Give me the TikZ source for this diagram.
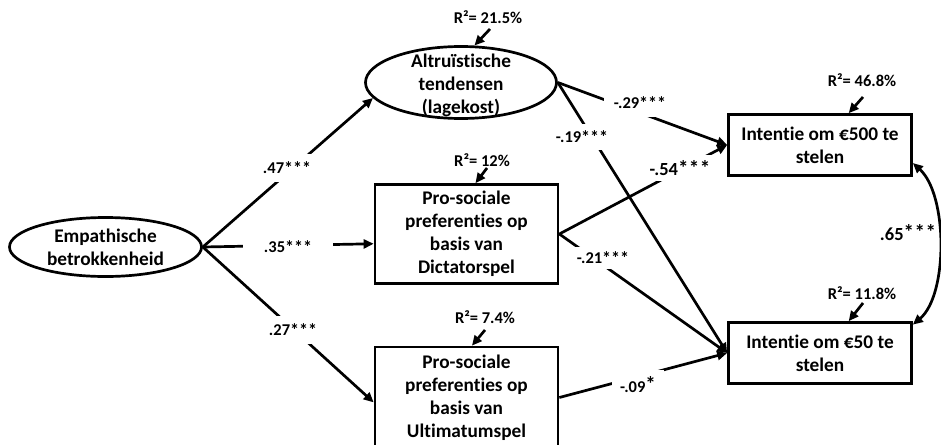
\documentclass[tikz,border=0pt]{standalone}
\usepackage{fontspec}
\setmainfont{Carlito}[Ligatures=NoCommon]
\usetikzlibrary{arrows.meta,shapes.geometric}
\newcommand{\stars}[1]{{\fontsize{#1}{#1}\selectfont\raisebox{-0.5pt}{***}}}
\begin{document}
\begin{tikzpicture}[x=1pt,y=-1pt,line width=2.7pt,
  >={Triangle[length=10pt,width=9pt]},
  nodetext/.style={font=\fontsize{19.3}{23}\selectfont\bfseries,align=center,inner sep=0pt},
  ell/.style={draw,ellipse,inner sep=0pt},
  box/.style={nodetext,draw,rectangle,minimum width=183pt},
  coef/.style={font=\fontsize{16.5}{20}\selectfont\bfseries,fill=white,inner sep=3pt},
  rsq/.style={font=\fontsize{16.5}{20}\selectfont\bfseries,inner sep=1pt},
  bigstar/.style={font=\fontsize{18.5}{20}\selectfont\bfseries,fill=white,inner sep=3pt}
]
\useasboundingbox (0,0) rectangle (941,444);
\clip (0,0) rectangle (941,444);

% nodes
\node[ell,minimum width=192pt,minimum height=59pt] (emp) at (105.5,247) {};
\node[nodetext] (empt) at (105.5,247) {Empathische\\betrokkenheid};
\node[ell,minimum width=191pt,minimum height=72pt] (alt) at (461,82.5) {};
\node[nodetext] (altt) at (461,85) {Altruïstische\\tendensen\\(lagekost)};
\node[box,minimum height=99pt] (dic) at (466.5,234) {Pro-sociale\\preferenties op\\basis van\\Dictatorspel};
\node[box,minimum height=101pt] (ult) at (466.5,397.5) {Pro-sociale\\preferenties op\\basis van\\Ultimatumspel};
\node[box,minimum height=61pt] (b500) at (820,145) {Intentie om €500 te\\stelen};
\node[box,minimum height=61pt] (b50) at (820,353) {Intentie om €50 te\\stelen};

% R-squared labels
\node[rsq] (ra) at (488,17) {R²= 21.5\%};
\node[rsq] (rd) at (482,160) {R²= 12\%};
\node[rsq] (ru) at (485,317) {R²= 7.4\%};
\node[rsq] (r5h) at (862,80) {R²= 46.8\%};
\node[rsq] (r5) at (862,293) {R²= 11.8\%};
\coordinate (ras) at (490,29);
\coordinate (rds) at (487,168);
\coordinate (rus) at (485,330);
\coordinate (r5hs) at (863,97);
\coordinate (r5s) at (863,303);
\draw[->] (ras) -- (alt.70);
\draw[->] (rds) -- (dic.80);
\draw[->] (rus) -- (ult.84);
\draw[->] (r5hs) -- (b500.48);
\draw[->] (r5s) -- (b50.48);

% paths
\draw[->] (emp.east) -- (alt.190);
\draw[->] (emp.east) -- (dic.186.7);
\draw[->] (emp.east) -- (ult.183);
\draw[->] (alt.east) -- (b500.west);
\draw[->] (alt.east) -- (b50.west);
\draw[->] (dic.east) -- (b500.west);
\draw[->] (dic.east) -- (b50.west);
\draw[->] (ult.east) -- (b50.west);
\draw[<->] (b500.-11) .. controls (948,195) and (948,295) .. (b50.17);

% coefficient labels
\node[coef,inner ysep=8pt] (l47) at (287,168) {.47\stars{18}};
\node[coef,inner xsep=21pt,inner ysep=4pt] (l35) at (288,247) {.35\stars{18}};
\node[coef,inner ysep=8pt] (l27) at (293,330) {.27\stars{18}};
\node[coef,inner xsep=10pt,inner ysep=8pt] (l29) at (640,103) {-.29\stars{18}};
\node[coef,inner ysep=7pt] (l19) at (582,137) {-.19\stars{18}};
\node[bigstar,inner ysep=5pt] (l54) at (680,168) {-.54{\fontsize{21}{21}\selectfont *\kern0.5pt*\kern0.5pt*}};
\node[coef,inner xsep=4pt,inner ysep=5pt] (l21) at (603,258) {-.21\stars{18}};
\node[coef,inner xsep=8pt,inner ysep=7pt] (l09) at (638,385) {-.09\raisebox{1pt}{\fontsize{21}{21}\selectfont *}};
\node[bigstar,fill=none,inner sep=1pt] (l65) at (908,233) {.65\raisebox{1pt}{\fontsize{21}{21}\selectfont *\kern0.5pt*\kern0.5pt*}};
\end{tikzpicture}
\end{document}
